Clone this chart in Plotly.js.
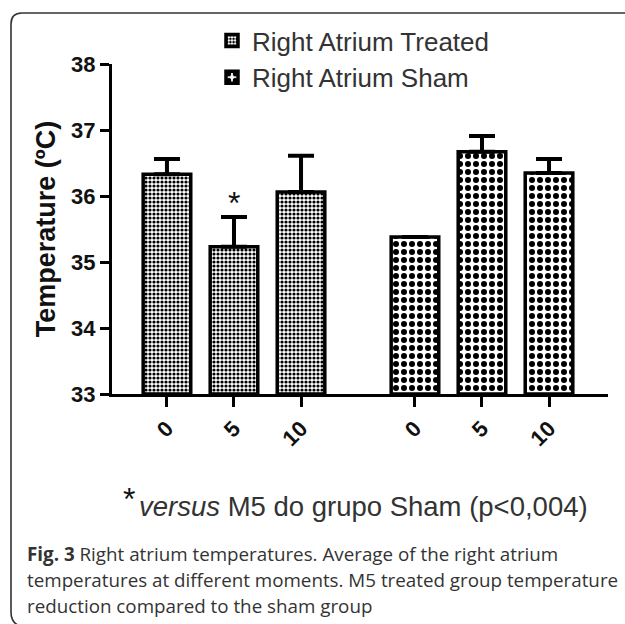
<!DOCTYPE html>
<html>
<head>
<meta charset="utf-8">
<script src="https://cdn.plot.ly/plotly-3.0.1.min.js"></script>
<style>
  html, body { margin: 0; padding: 0; background: #fff; }
  #chart { width: 625px; height: 624px; }
</style>
</head>
<body>
<div id="chart"></div>
<script>
// ---- data ----
const moments = ['0', '5', '10'];
const treatedPos = [0, 1, 2];
const shamPos = [3.7, 4.7, 5.7];
const treatedMean = [36.33, 35.23, 36.06];
const treatedErr = [0.23, 0.45, 0.55];
const shamMean = [35.38, 36.67, 36.35];
const shamErr = [0.0, 0.24, 0.21];
const seriesNames = ['Right Atrium Treated', 'Right Atrium Sham'];
const yTicks = [33, 34, 35, 36, 37, 38];

// ---- layout geometry (pixels) ----
const W = 625, H = 624;
const M = { l: 112, r: 17, t: 64, b: 230 };
const pw = W - M.l - M.r, ph = H - M.t - M.b;
const px = v => (v - M.l) / pw;       // pixel x -> paper
const py = v => (H - M.b - v) / ph;   // pixel y -> paper

const FONT = 'Liberation Sans, Arial, sans-serif';

function barTrace(name, xs, ys, err, patt) {
  return {
    type: 'bar',
    name: name,
    x: xs,
    y: ys,
    base: 33,
    width: 0.71,
    marker: {
      color: '#ffffff',
      line: { color: '#000', width: 3.5 },
      pattern: patt
    },
    error_y: {
      type: 'data',
      symmetric: false,
      array: err,
      arrayminus: err.map(() => 0),
      color: '#000',
      thickness: 4,
      width: 13
    },
    hoverinfo: 'skip'
  };
}

const traces = [
  barTrace(seriesNames[0], treatedPos, treatedMean.map(v => v - 33), treatedErr,
    { shape: '.', size: 4, solidity: 0.5, fgcolor: '#000', fgopacity: 1, bgcolor: '#fff', fillmode: 'overlay' }),
  barTrace(seriesNames[1], shamPos, shamMean.map(v => v - 33), shamErr,
    { shape: '.', size: 8, solidity: 0.45, fgcolor: '#000', fgopacity: 1, bgcolor: '#fff', fillmode: 'overlay' })
];

const layout = {
  width: W, height: H,
  margin: M,
  paper_bgcolor: '#fff',
  plot_bgcolor: '#fff',
  font: { family: FONT, color: '#111' },
  showlegend: true,
  legend: {
    x: px(212), y: py(17), xanchor: 'left', yanchor: 'top',
    font: { family: FONT, size: 26, color: '#333' },
    bgcolor: 'rgba(0,0,0,0)'
  },
  xaxis: {
    range: [-0.82, 6.58],
    tickvals: treatedPos.concat(shamPos),
    ticktext: moments.concat(moments),
    tickangle: -45,
    ticks: 'outside', ticklen: 10, tickwidth: 3, tickcolor: '#000',
    showline: true, linecolor: '#000', linewidth: 3,
    showgrid: false, zeroline: false,
    tickfont: { family: FONT, size: 22, color: '#111', weight: 'bold' },
    fixedrange: true
  },
  yaxis: {
    range: [33, 38],
    tickvals: yTicks,
    ticktext: yTicks.map(String),
    ticks: 'outside', ticklen: 9, tickwidth: 3, tickcolor: '#000',
    showline: true, linecolor: '#000', linewidth: 3,
    showgrid: false, zeroline: false,
    tickfont: { family: FONT, size: 22, color: '#111', weight: 'bold' },
    title: { text: 'Temperature (ºC)', font: { family: FONT, size: 27, color: '#111', weight: 'bold' }, standoff: 8 },
    fixedrange: true
  },
  annotations: [
    { xref: 'x', yref: 'y', x: treatedPos[1], y: treatedMean[1] + treatedErr[1],
      text: '*', showarrow: false, yanchor: 'bottom', yshift: -6,
      font: { family: FONT, size: 32, color: '#111' } },
    { xref: 'paper', yref: 'paper', x: px(121), y: py(499), xanchor: 'left', yanchor: 'middle',
      text: '*', showarrow: false, font: { family: FONT, size: 32, color: '#111' } },
    { xref: 'paper', yref: 'paper', x: px(137), y: py(507), xanchor: 'left', yanchor: 'middle',
      text: '<i>versus</i> M5 do grupo Sham (p&lt;0,004)', showarrow: false,
      font: { family: FONT, size: 27.5, color: '#333' } },
    { xref: 'paper', yref: 'paper', x: px(25), y: py(554), xanchor: 'left', yanchor: 'middle',
      text: '<b>Fig. 3</b> Right atrium temperatures. Average of the right atrium', showarrow: false,
      font: { family: 'Open Sans, sans-serif', size: 18.8, color: '#333' } },
    { xref: 'paper', yref: 'paper', x: px(25), y: py(580), xanchor: 'left', yanchor: 'middle',
      text: 'temperatures at different moments. M5 treated group temperature', showarrow: false,
      font: { family: 'Open Sans, sans-serif', size: 18.8, color: '#333' } },
    { xref: 'paper', yref: 'paper', x: px(25), y: py(606), xanchor: 'left', yanchor: 'middle',
      text: 'reduction compared to the sham group', showarrow: false,
      font: { family: 'Open Sans, sans-serif', size: 18.8, color: '#333' } }
  ],
  shapes: [
    { type: 'path', xref: 'paper', yref: 'paper', layer: 'below',
      path: 'M ' + px(626) + ',' + py(13) + ' L ' + px(22) + ',' + py(13) +
            ' Q ' + px(11) + ',' + py(13) + ' ' + px(11) + ',' + py(24) +
            ' L ' + px(11) + ',' + py(612) +
            ' Q ' + px(11) + ',' + py(623) + ' ' + px(20) + ',' + py(626),
      line: { color: '#333', width: 1.6 } }
  ]
};

Plotly.newPlot('chart', traces, layout, { displayModeBar: false, staticPlot: true });
</script>
</body>
</html>
